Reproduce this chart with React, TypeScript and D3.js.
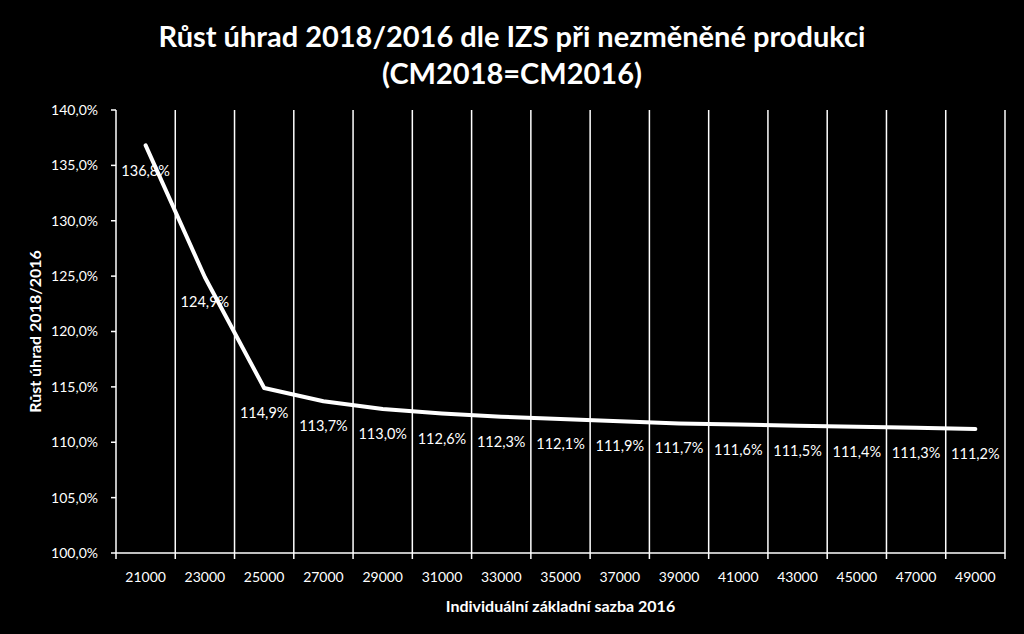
import React from "react";
import * as d3 from "d3";

const categories = ["21000","23000","25000","27000","29000","31000","33000","35000","37000","39000","41000","43000","45000","47000","49000"];
const values = [136.8,124.9,114.9,113.7,113.0,112.6,112.3,112.1,111.9,111.7,111.6,111.5,111.4,111.3,111.2];
const yTicks = [100,105,110,115,120,125,130,135,140];
const title1 = "Růst úhrad 2018/2016 dle IZS při nezměněné produkci";
const title2 = "(CM2018=CM2016)";
const xTitle = "Individuální základní sazba 2016";
const yTitle = "Růst úhrad 2018/2016";

const W = 1024, H = 634;
const m = { left: 116, right: 1005, top: 110, bottom: 553 };
const font = "Lato, 'Open Sans', sans-serif";
const fmt = (v: number) => v.toFixed(1).replace(".", ",") + "%";

export default function App() {
  const x = d3.scaleBand<string>().domain(categories).range([m.left, m.right]);
  const y = d3.scaleLinear().domain([100, 140]).range([m.bottom, m.top]);
  const line = d3.line<number>()
    .x((_, i) => (x(categories[i]) as number) + x.bandwidth() / 2)
    .y((d) => y(d));
  const bounds = categories.map((c) => x(c) as number).concat([m.right]);
  return (
    <div style={{ position: "fixed", left: 0, top: 0 }}>
      <svg width={W} height={H} style={{ display: "block", background: "#000" }}>
        <rect x={0} y={0} width={W} height={H} fill="#000" />
        <text x={512} y={47} fill="#fff" fontFamily={font} fontWeight="bold" fontSize={29} textAnchor="middle">{title1}</text>
        <text x={512} y={84} fill="#fff" fontFamily={font} fontWeight="bold" fontSize={29} textAnchor="middle">{title2}</text>
        {bounds.map((b, i) => (
          <g key={"g" + i}>
            <line x1={b} x2={b} y1={m.top} y2={m.bottom + 6} stroke="#fff" strokeWidth={1.5} />
          </g>
        ))}
        <line x1={m.left} x2={m.right} y1={m.bottom} y2={m.bottom} stroke="#fff" strokeWidth={1.5} />
        {yTicks.map((t) => (
          <g key={"y" + t}>
            <line x1={m.left - 5} x2={m.left} y1={y(t)} y2={y(t)} stroke="#fff" strokeWidth={1.5} />
            <text x={m.left - 18} y={y(t)} dy="0.35em" fill="#fff" fontFamily={font} fontSize={14} textAnchor="end">{fmt(t)}</text>
          </g>
        ))}
        {categories.map((c) => (
          <text key={"x" + c} x={(x(c) as number) + x.bandwidth() / 2} y={577} dy="0.35em" fill="#fff" fontFamily={font} fontSize={14} textAnchor="middle">{c}</text>
        ))}
        {values.map((v, i) => (
          <text key={"l" + i} x={(x(categories[i]) as number) + x.bandwidth() / 2} y={y(v) + 25} dy="0.35em" fill="#fff" fontFamily={font} fontSize={14.5} textAnchor="middle">{fmt(v)}</text>
        ))}
        <path d={line(values) || ""} fill="none" stroke="#fff" strokeWidth={4} strokeLinejoin="round" strokeLinecap="round" />
        <text x={(m.left + m.right) / 2} y={606} dy="0.35em" fill="#fff" fontFamily={font} fontWeight="bold" fontSize={16} textAnchor="middle">{xTitle}</text>
        <text transform={`translate(35,${(m.top + m.bottom) / 2}) rotate(-90)`} dy="0.35em" fill="#fff" fontFamily={font} fontWeight="bold" fontSize={16} textAnchor="middle">{yTitle}</text>
      </svg>
    </div>
  );
}
